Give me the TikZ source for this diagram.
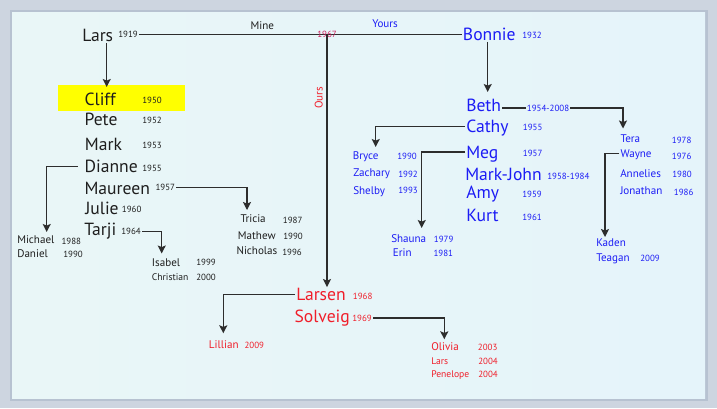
\documentclass[tikz,border=0pt]{standalone}
\usepackage{fontspec}
\setmainfont{PT Sans}
\usetikzlibrary{arrows.meta}

\definecolor{frameGrey}{RGB}{205,213,224}
\definecolor{frameLine}{RGB}{183,194,209}
\definecolor{panelL}{RGB}{233,246,247}
\definecolor{panelM}{RGB}{197,230,244}
\definecolor{panelR}{RGB}{229,244,250}
\definecolor{cliffYellow}{RGB}{255,255,0}
\definecolor{inkBlack}{RGB}{30,30,30}
\definecolor{inkBlue}{RGB}{28,28,245}
\definecolor{inkRed}{RGB}{240,30,42}
\definecolor{inkWed}{RGB}{205,32,92}
\definecolor{lineGrey}{RGB}{45,45,45}

\begin{document}
\begin{tikzpicture}[x=0.75pt,y=0.75pt,yscale=-1,xscale=1,
  every node/.style={inner sep=0.75pt},
  big/.style={anchor=base west,font=\fontsize{13.2}{15}\selectfont,text height=9.3pt,text depth=0pt},
  mid/.style={anchor=base west,font=\fontsize{8.3}{10}\selectfont,text height=6pt,text depth=0pt},
  sml/.style={anchor=base west,font=\fontsize{7.2}{9}\selectfont,text height=5.2pt,text depth=0pt},
  yr/.style={anchor=base west,font=\fontsize{6.7}{8}\selectfont,text height=4.7pt,text depth=0pt},
  fromLars/.style={text=inkBlack},
  fromBonnie/.style={text=inkBlue},
  fromBoth/.style={text=inkRed},
  link/.style={draw=lineGrey,line width=1pt},
  kid/.style={link,-{Stealth[length=6pt,width=6pt,inset=1.2pt]}}]

%Shape: Frame and panel
\fill [frameGrey] (0,0) rectangle (717,408) ;
\draw [frameLine,line width=1.8pt] (11,11) rectangle (706.5,399.5) ;
\shade [left color=panelL,middle color=panelM,right color=panelR] (12,12) rectangle (705,398) ;
%Shape: Rectangle
\fill [cliffYellow] (58,85) rectangle (185,111) ;

% Text Node -- top couple
\node [big,fromLars] (lars) at (81,41.5) {Lars};
\node [yr,fromLars] (lars-y) at (117,37.3) {1919};
\node [big,fromBonnie] (bonnie) at (461.7,40.7) {Bonnie};
\node [yr,fromBonnie] (bonnie-y) at (521,38.3) {1932};
\coordinate (wed) at (327,34.3);

%Straight Lines
\draw [link] (lars-y.east) -- (bonnie.west |- lars-y.east) ;
\node [yr,text=inkWed,anchor=center] (wed-y) at (wed) {1967};
\node [mid,fromLars] (mine) at (249.3,29.3) {Mine};
\node [mid,fromBonnie] (yours) at (371,27.3) {Yours};
\node [mid,fromBoth,rotate=90,anchor=center] (ours) at (318.5,98) {Ours};

% Text Node -- Lars' children
\node [big,fromLars] (cliff) at (83.3,105) {Cliff};
\node [yr,fromLars] (cliff-y) at (141,103.3) {1950};
\node [big,fromLars] (pete) at (83.3,125) {Pete};
\node [yr,fromLars] (pete-y) at (141,123.3) {1952};
\node [big,fromLars] (mark) at (83.7,150.7) {Mark};
\node [yr,fromLars] (mark-y) at (141,148.7) {1953};
\node [big,fromLars] (dianne) at (83.3,172.7) {Dianne};
\node [yr,fromLars] (dianne-y) at (141,171.3) {1955};
\node [big,fromLars] (maureen) at (83.3,194) {Maureen};
\node [yr,fromLars] (maureen-y) at (154.3,190.7) {1957};
\node [big,fromLars] (julie) at (84,214) {Julie};
\node [yr,fromLars] (julie-y) at (120.7,212.3) {1960};
\node [big,fromLars] (tarji) at (83,235.3) {Tarji};
\node [yr,fromLars] (tarji-y) at (120,234.3) {1964};

% Text Node -- grandchildren
\node [mid,fromLars] (michael) at (16,243.3) {Michael};
\node [yr,fromLars] (michael-y) at (60.3,244.3) {1988};
\node [mid,fromLars] (daniel) at (16,257.7) {Daniel};
\node [yr,fromLars] (daniel-y) at (62,257) {1990};
\node [mid,fromLars] (tricia) at (239.3,222.7) {Tricia};
\node [yr,fromLars] (tricia-y) at (281.7,223.7) {1987};
\node [mid,fromLars] (mathew) at (236.7,239) {Mathew};
\node [yr,fromLars] (mathew-y) at (282,239.3) {1990};
\node [mid,fromLars] (nicholas) at (235.3,254) {Nicholas};
\node [yr,fromLars] (nicholas-y) at (281,255) {1996};
\node [mid,fromLars] (isabel) at (150.7,266.7) {Isabel};
\node [yr,fromLars] (isabel-y) at (195,265.7) {1999};
\node [sml,fromLars] (christian) at (150.7,280) {Christian};
\node [yr,fromLars] (christian-y) at (195,280) {2000};

% Text Node -- Bonnie's children
\node [big,fromBonnie] (beth) at (465,111.7) {Beth};
\node [yr,fromBonnie] (beth-y) at (525.7,111) {1954-2008};
\node [big,fromBonnie] (cathy) at (465,132.7) {Cathy};
\node [yr,fromBonnie] (cathy-y) at (521.7,130.7) {1955};
\node [big,fromBonnie] (meg) at (465,158.3) {Meg};
\node [yr,fromBonnie] (meg-y) at (521.7,156.7) {1957};
\node [big,fromBonnie] (markjohn) at (464,180) {Mark-John};
\node [yr,fromBonnie] (markjohn-y) at (546,179) {1958-1984};
\node [big,fromBonnie] (amy) at (465,198.3) {Amy};
\node [yr,fromBonnie] (amy-y) at (521,197.7) {1959};
\node [big,fromBonnie] (kurt) at (465,221.7) {Kurt};
\node [yr,fromBonnie] (kurt-y) at (521,220) {1961};

% Text Node -- Bonnie's grandchildren
\node [mid,fromBonnie] (bryce) at (351.7,159.3) {Bryce};
\node [yr,fromBonnie] (bryce-y) at (396,159.3) {1990};
\node [mid,fromBonnie] (zachary) at (352,176) {Zachary};
\node [yr,fromBonnie] (zachary-y) at (397,177.3) {1992};
\node [mid,fromBonnie] (shelby) at (352,194) {Shelby};
\node [yr,fromBonnie] (shelby-y) at (397,193.3) {1993};
\node [mid,fromBonnie] (shauna) at (390,242.3) {Shauna};
\node [yr,fromBonnie] (shauna-y) at (432.7,242.3) {1979};
\node [mid,fromBonnie] (erin) at (391.7,256) {Erin};
\node [yr,fromBonnie] (erin-y) at (432.3,256) {1981};
\node [mid,fromBonnie] (tera) at (619.3,142.3) {Tera};
\node [yr,fromBonnie] (tera-y) at (670.7,143.3) {1978};
\node [mid,fromBonnie] (wayne) at (619.3,157.7) {Wayne};
\node [yr,fromBonnie] (wayne-y) at (670.7,159) {1976};
\node [mid,fromBonnie] (annelies) at (619,177.7) {Annelies};
\node [yr,fromBonnie] (annelies-y) at (671,177.7) {1980};
\node [mid,fromBonnie] (jonathan) at (619,194.3) {Jonathan};
\node [yr,fromBonnie] (jonathan-y) at (672.7,195.7) {1986};
\node [mid,fromBonnie] (kaden) at (595,246.7) {Kaden};
\node [mid,fromBonnie] (teagan) at (595,261.3) {Teagan};
\node [yr,fromBonnie] (teagan-y) at (639,261.7) {2009};

% Text Node -- ours
\node [big,fromBoth] (larsen) at (295,300.7) {Larsen};
\node [yr,fromBoth] (larsen-y) at (351.7,299) {1968};
\node [big,fromBoth] (solveig) at (293.3,322.7) {Solveig};
\node [yr,fromBoth] (solveig-y) at (351,321) {1969};
\node [mid,fromBoth] (lillian) at (207.7,348.3) {Lillian};
\node [yr,fromBoth] (lillian-y) at (243.3,348.3) {2009};
\node [mid,fromBoth] (olivia) at (430,350.7) {Olivia};
\node [yr,fromBoth] (olivia-y) at (476.7,350) {2003};
\node [sml,fromBoth] (lars2) at (430,364) {Lars};
\node [yr,fromBoth] (lars2-y) at (477,364) {2004};
\node [sml,fromBoth] (penelope) at (430,377.3) {Penelope};
\node [yr,fromBoth] (penelope-y) at (477,377.3) {2004};

% arrow ends
\coordinate (cliff-tip) at (106.7,87) ;
\coordinate (dianne-tip) at (46.7,232) ;
\coordinate (maureen-tip) at (247,210) ;
\coordinate (tarji-tip) at (161.7,253.5) ;
\coordinate (beth-tip) at (487.7,92) ;
\coordinate (tera-tip) at (623,128.5) ;
\coordinate (cathy-tip) at (375.7,147) ;
\coordinate (meg-tip) at (421.7,228) ;
\coordinate (wayne-tip) at (605,237) ;
\coordinate (larsen-tip) at (223.3,333.3) ;
\coordinate (solveig-tip) at (444.3,339.3) ;

%Straight Lines
\draw [kid] (wed) -- (wed |- larsen.north) ;
\draw [kid] (cliff-tip |- lars.south) -- (cliff-tip) ;
\draw [kid,shorten <=4pt] (dianne.west) -| (dianne-tip) ;
\draw [kid] (maureen-y.east) -| (maureen-tip) ;
\draw [kid] (tarji-y.east) -| (tarji-tip) ;
\draw [kid] (beth-tip |- bonnie.south) -- (beth-tip) ;
\draw [link] (beth.east |- beth-y.west) -- (beth-y.west) ;
\draw [kid] (beth-y.east) -| (tera-tip) ;
\draw [kid] (cathy.west) -| (cathy-tip) ;
\draw [kid] (meg.west) -| (meg-tip) ;
\draw [kid] (wayne.west) -| (wayne-tip) ;
\draw [kid] (larsen.west) -| (larsen-tip) ;
\draw [kid] (solveig-y.east) -| (solveig-tip) ;

\end{tikzpicture}
\end{document}
